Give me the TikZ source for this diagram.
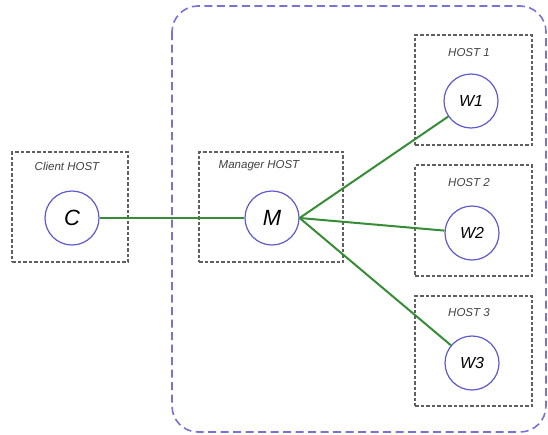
\documentclass[tikz,border=0pt]{standalone}
\usepackage{fontspec}
\setmainfont{Liberation Sans}
\usetikzlibrary{positioning}
\definecolor{procblue}{RGB}{95,90,205}
\definecolor{linkgreen}{RGB}{55,140,55}
\definecolor{boxgray}{RGB}{95,95,95}
\tikzset{
CLUSTER/.style ={draw=procblue!85,dash pattern=on 8pt off 4.5pt,rounded corners=26pt,line width=1.6pt},
HOSTBOX/.style ={draw=boxgray,dash pattern=on 3.5pt off 2pt,line width=1.5pt,inner sep=0pt},
PROC/.style={draw=procblue,circle,fill=white,line width=1.2pt,minimum size=#1,inner sep=0pt,font=\itshape},
PROC/.default = 54,
LINK/.style ={draw=linkgreen,line width=2pt},
HOSTLABEL/.style={font=\itshape\fontsize{11.5}{13}\selectfont,text=black!75},
}
\begin{document}
\begin{tikzpicture}
[x=1pt, y=-1pt]
	\useasboundingbox (0,0) rectangle (548,434);
	\draw[CLUSTER] (172,6) rectangle (546,432);
	% hosts
	\node[HOSTBOX, minimum width=116, minimum height=110] (clienthost) at (70,207) {};
	\node[HOSTBOX, minimum width=144, minimum height=110] (managerhost) at (271,207) {};
	\node[HOSTBOX, minimum width=117, minimum height=110] (host1) at (473.5,90) {};
	\node[HOSTBOX, minimum width=117, minimum height=111] (host2) at (473.5,220.5) {};
	\node[HOSTBOX, minimum width=117, minimum height=110] (host3) at (473.5,351) {};
	\node[HOSTLABEL] (clientlabel) at (67,166) {Client HOST};
	\node[HOSTLABEL] (managerlabel) at (259,166) {Manager HOST};
	\node[HOSTLABEL] (label1) at (469,53) {HOST 1};
	\node[HOSTLABEL] (label2) at (469,183) {HOST 2};
	\node[HOSTLABEL] (label3) at (469,313) {HOST 3};
	% processes
	\node[PROC, font=\itshape\fontsize{22}{24}\selectfont] (c) at (72,218) {C};
	\node[PROC, font=\itshape\fontsize{22}{24}\selectfont] (m) at (272,218) {M};
	\node[PROC, font=\itshape\fontsize{16}{18}\selectfont] (w1) at (471,101) {W1};
	\node[PROC, font=\itshape\fontsize{16}{18}\selectfont] (w2) at (472,233) {W2};
	\node[PROC, font=\itshape\fontsize{16}{18}\selectfont] (w3) at (472,363) {W3};
	% links
	\draw[LINK] (c) -- (m);
	\foreach \w in {w1,w2,w3} {
	\draw[LINK] (m.east) -- (\w);}
\end{tikzpicture}
\end{document}
